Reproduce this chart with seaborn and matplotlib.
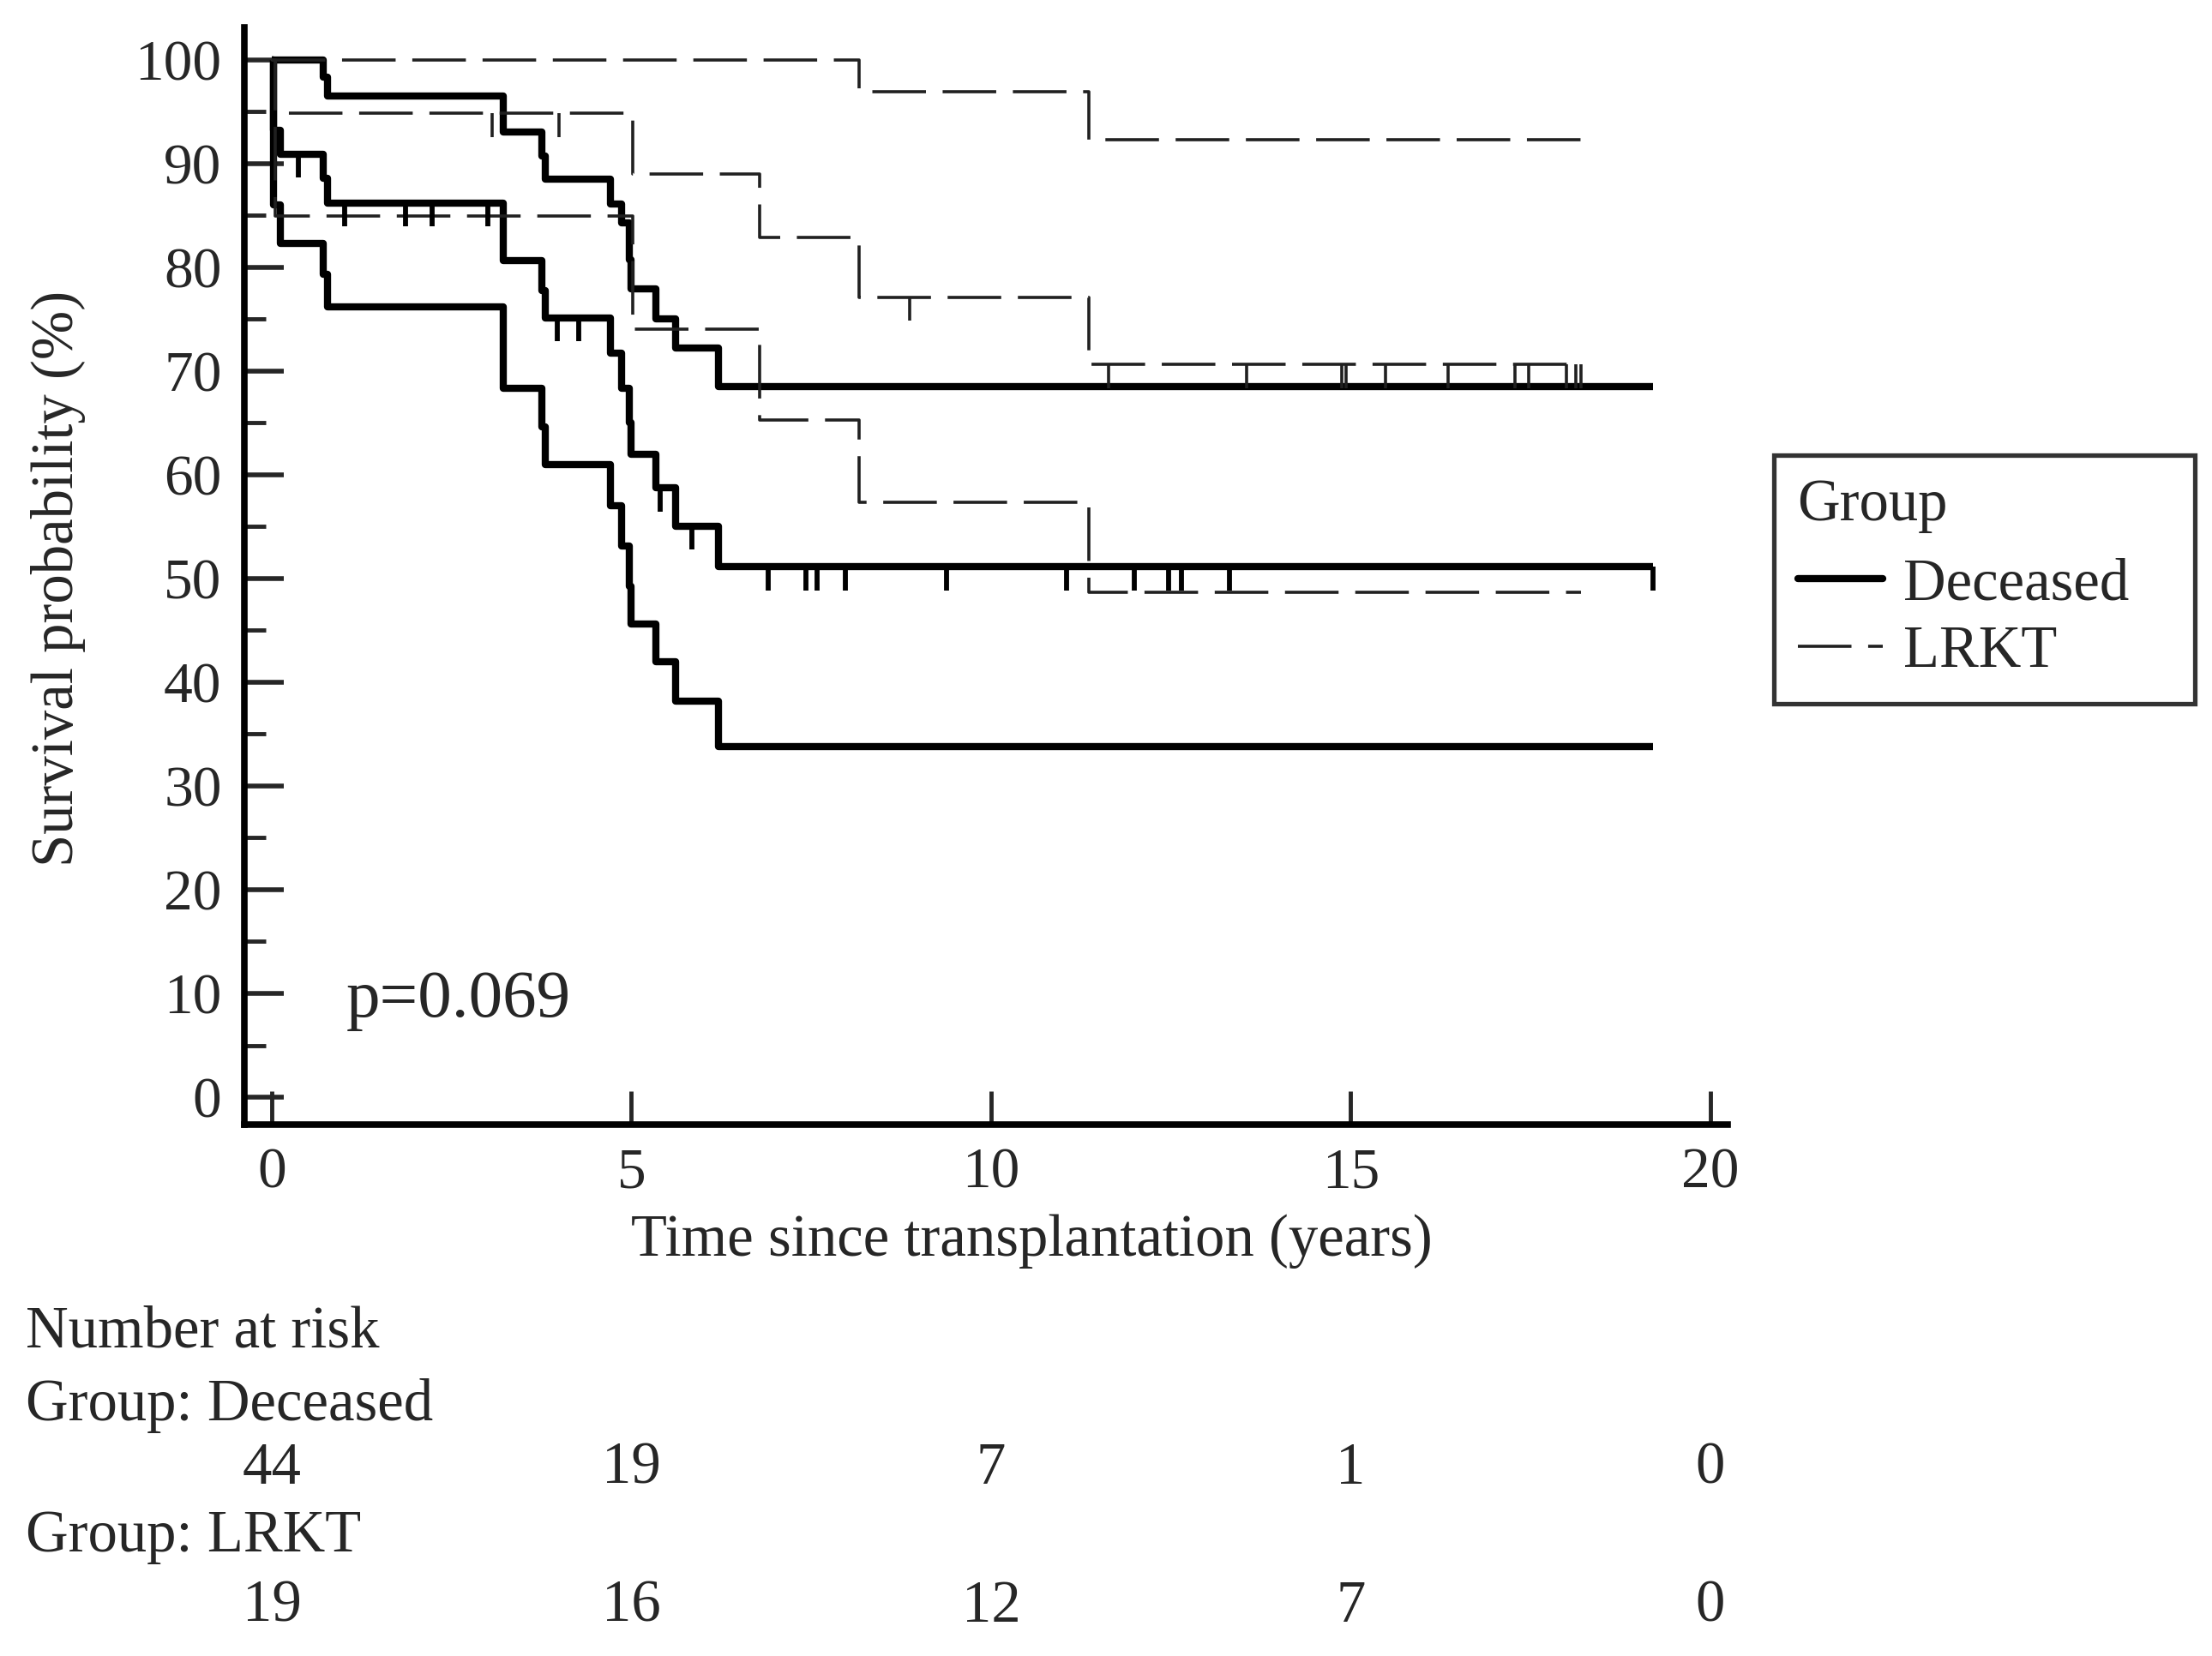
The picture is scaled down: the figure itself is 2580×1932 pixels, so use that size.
import numpy as np
import pandas as pd
import matplotlib
matplotlib.use("Agg")
import matplotlib.pyplot as plt
from matplotlib.lines import Line2D
from matplotlib.transforms import blended_transform_factory
import seaborn as sns

# ---------------- data ----------------
groups = ["Deceased", "LRKT"]

dec_time = [0, 0.02, 0.12, 0.72, 0.78, 3.22, 3.76, 3.80, 4.71, 4.86, 4.97, 5.00, 5.34, 5.62, 6.21, 19.2]
dec_surv = [100, 93.2, 90.9, 88.6, 86.2, 80.6, 77.7, 75.1, 71.7, 68.3, 65.0, 62.0, 58.7, 55.0, 51.1, 51.1]
dec_upper = [100, 100, 100, 98.3, 96.5, 93.0, 90.7, 88.5, 86.1, 84.3, 80.7, 77.9, 75.0, 72.2, 68.5, 68.5]
dec_lower = [100, 86.0, 82.3, 79.3, 76.2, 68.3, 64.6, 61.0, 57.0, 53.1, 49.2, 45.6, 42.0, 38.2, 33.8, 33.8]
dec_censor = [0.37, 1.01, 1.86, 2.23, 3.00, 3.97, 4.27, 5.40, 5.84, 6.90, 7.43, 7.58, 7.97,
              9.38, 11.05, 11.99, 12.47, 12.65, 13.32, 19.2]

lrkt_time = [0, 0.05, 5.02, 6.78, 8.16, 11.36, 18.2]
lrkt_surv = [100, 94.8, 89.0, 82.9, 77.1, 70.6, 70.6]
lrkt_upper = [100, 100, 100, 100, 96.9, 92.3, 92.3]
lrkt_lower = [100, 84.9, 74.0, 65.3, 57.3, 48.7, 48.7]
lrkt_censor = [3.06, 3.99, 8.87, 11.63, 13.55, 14.88, 14.93, 15.49, 16.36, 17.28, 17.47,
               18.0, 18.13, 18.2]

risk_times = [0, 5, 10, 15, 20]
risk_dec = [44, 19, 7, 1, 0]
risk_lrkt = [19, 16, 12, 7, 0]

x_ticks = [0, 5, 10, 15, 20]
y_ticks = [0, 10, 20, 30, 40, 50, 60, 70, 80, 90, 100]
p_text = "p=0.069"

# ---------------- style ----------------
sns.set_style("ticks")
FS = 49.5
FS_TICK = 48.5
FS_P = 57
plt.rcParams["font.family"] = ["Liberation Serif", "DejaVu Serif"]
plt.rcParams["lines.scale_dashes"] = False
plt.rcParams["font.size"] = FS

fig = plt.figure(figsize=(25.8, 19.32), dpi=100)
ax = fig.add_axes([285 / 2580, 1 - 1312 / 1932, (2015 - 285) / 2580, (1312 - 32) / 1932])

SOLID_LW = 6.0
DASH_LW = 2.6
DASH = (0, (45, 14))

def step_df(t, v):
    return pd.DataFrame({"time": t, "surv": v})

for vals in [dec_surv, dec_upper, dec_lower]:
    sns.lineplot(data=step_df(dec_time, vals), x="time", y="surv", ax=ax,
                 drawstyle="steps-post", color="black", linewidth=SOLID_LW,
                 estimator=None, sort=False, solid_capstyle="butt")

for vals in [lrkt_surv, lrkt_upper, lrkt_lower]:
    sns.lineplot(data=step_df(lrkt_time, vals), x="time", y="surv", ax=ax,
                 drawstyle="steps-post", color="#202020", linewidth=DASH_LW,
                 linestyle=DASH, estimator=None, sort=False)

# censoring ticks (hanging down from the estimate)
def value_at(t, v, c):
    idx = np.searchsorted(np.asarray(t), np.asarray(c), side="right") - 1
    return np.asarray(v)[idx]

TICK_H = 2.25
yd = value_at(dec_time, dec_surv, dec_censor)
ax.vlines(dec_censor, yd - TICK_H, yd, color="black", linewidth=4.2)
yl = value_at(lrkt_time, lrkt_surv, lrkt_censor)
ax.vlines(lrkt_censor, yl - TICK_H, yl, color="#202020", linewidth=2.6)

# ---------------- axes ----------------
ax.set_xlim(-0.381, 20.24)
ax.set_ylim(-2.64, 103.1)
ax.set_xticks(x_ticks)
ax.set_yticks(y_ticks)
ax.set_yticks(np.arange(5, 100, 10), minor=True)
ax.tick_params(axis="x", direction="in", length=28, width=3.5, pad=19, labelsize=FS_TICK)
ax.tick_params(axis="y", which="major", direction="in", length=33, width=4.0, pad=19, labelsize=FS_TICK)
ax.tick_params(axis="y", which="minor", direction="in", length=18, width=3.5)
ax.tick_params(axis="x", which="minor", bottom=False)
for s in ["top", "right"]:
    ax.spines[s].set_visible(False)
for s in ["left", "bottom"]:
    ax.spines[s].set_linewidth(5.5)
    ax.spines[s].set_color("black")

ax.set_xlabel("Time since transplantation (years)", fontsize=FS)
ax.set_ylabel("Survival probability (%)", fontsize=FS)
ax.xaxis.set_label_coords((1203 - 285) / (2015 - 285), -(1448 - 1312) / (1312 - 32))
ax.yaxis.set_label_coords(-(285 - 68) / (2015 - 285), (1312 - 675) / (1312 - 32))
ax.xaxis.label.set_va("center")
ax.yaxis.label.set_va("center")

ax.text(1.03, 9.3, p_text, fontsize=FS_P, va="center", ha="left")

# ---------------- legend ----------------
handles = [Line2D([], [], color="black", lw=SOLID_LW, solid_capstyle="round"),
           Line2D([], [], color="#202020", lw=DASH_LW, linestyle=DASH)]
leg = fig.legend(handles, groups, title="Group", loc="upper left",
                 bbox_to_anchor=(2069 / 2580, 1 - 809 / 1932, (2560 - 2069) / 2580, (809 - 531) / 1932),
                 mode="expand",
                 bbox_transform=fig.transFigure, frameon=True, fancybox=False,
                 fontsize=FS, title_fontsize=FS, handlelength=1.45, handletextpad=0.35,
                 labelspacing=0.22, borderpad=0.4, alignment="left", borderaxespad=0)
leg._legend_box.sep = 0.42 * FS
leg.get_frame().set_edgecolor("black")
leg.get_frame().set_linewidth(3.8)

# ---------------- number at risk table ----------------
trans = blended_transform_factory(ax.transData, fig.transFigure)
def fy(y):
    return 1 - y / 1932

fig.text(30 / 2580, fy(1555), "Number at risk", fontsize=FS, va="center", ha="left")
fig.text(30 / 2580, fy(1640), "Group: Deceased", fontsize=FS, va="center", ha="left")
fig.text(30 / 2580, fy(1793), "Group: LRKT", fontsize=FS, va="center", ha="left")
for t, n in zip(risk_times, risk_dec):
    ax.text(t, fy(1714), str(n), transform=trans, fontsize=FS, va="center", ha="center")
for t, n in zip(risk_times, risk_lrkt):
    ax.text(t, fy(1875), str(n), transform=trans, fontsize=FS, va="center", ha="center")

fig.savefig("out.png", dpi=100)
